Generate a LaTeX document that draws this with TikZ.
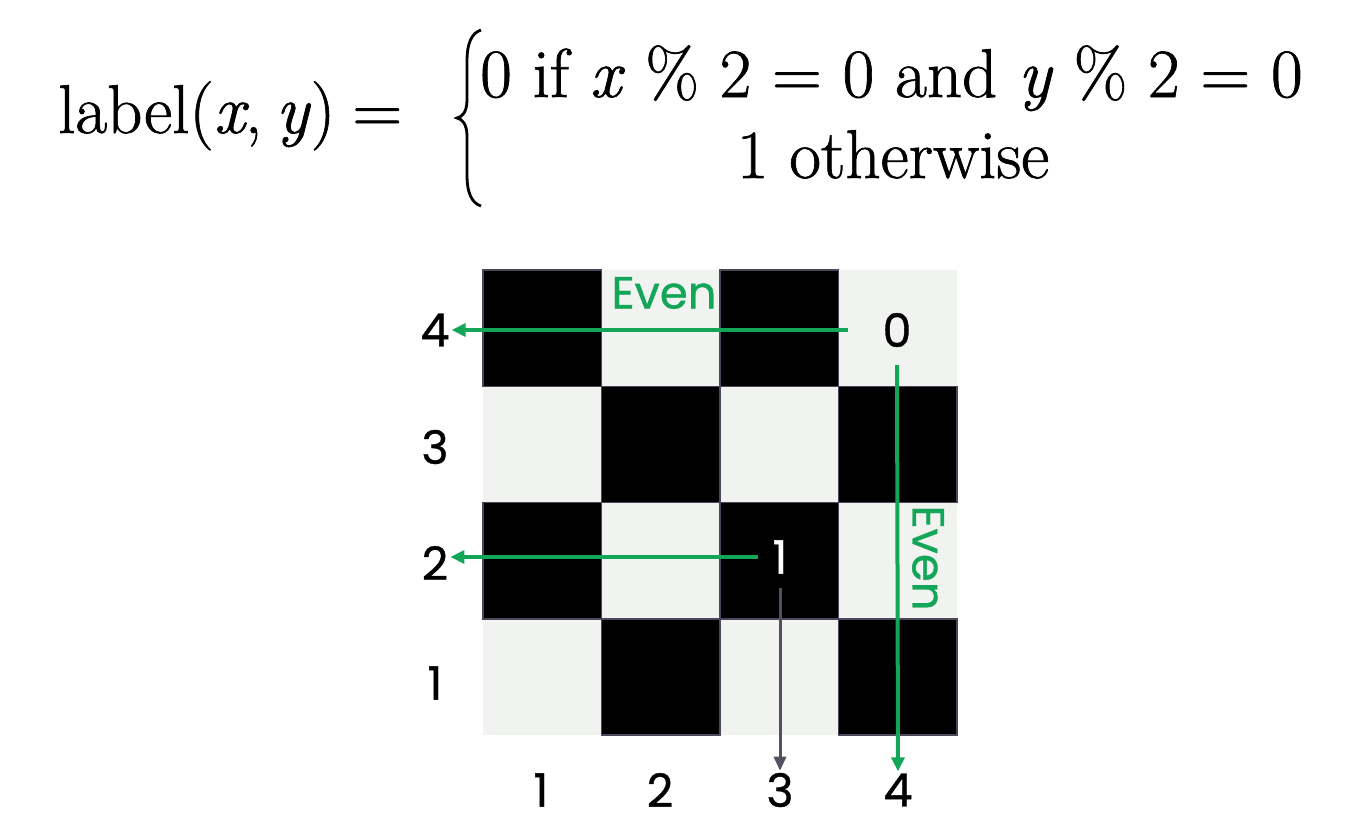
\documentclass[tikz,border=0pt]{standalone}
\usepackage{fontspec}
\usetikzlibrary{arrows.meta}
\newfontfamily\labfont[FakeBold=0.8]{Poppins}
\newfontfamily\formfont[FakeBold=1]{Latin Modern Roman}
\definecolor{evgreen}{RGB}{20,166,88}
\definecolor{lightcell}{RGB}{241,243,241}
\definecolor{cellborder}{RGB}{74,72,90}
\definecolor{grayarrow}{RGB}{85,80,96}
\tikzset{
  darkcell/.style={fill=black,draw=cellborder,line width=1.5pt},
  axislab/.style={font=\labfont\fontsize{46}{54}\selectfont,inner sep=2pt},
  evenlab/.style={font=\labfont\fontsize{45}{54}\selectfont,text=evgreen,inner sep=0pt},
  garrow/.style={draw=evgreen,line width=4pt,-{Triangle[length=14pt,width=13pt]}},
  karrow/.style={draw=grayarrow,line width=3pt,-{Triangle[length=14pt,width=12pt]}},
  formtext/.style={font=\formfont\fontsize{69}{80}\selectfont,inner sep=0pt}
}
\begin{document}
\begin{tikzpicture}[x=1pt,y=-1pt]
\useasboundingbox (0,0) rectangle (1363,836);
\fill[white] (0,0) rectangle (1363,836);
% formula
\node[formtext,anchor=base west] (lhs) at (58,133) {label(\textit{x},\hspace{0.2em}\textit{y})\hspace{0.25em}=};
\node[formtext,anchor=base west] (case1) at (480,97) {0 if \textit{x} \% 2 = 0 and \textit{y} \% 2 = 0};
\node[formtext,anchor=base] (case2) at (893,178) {1 otherwise};
\draw[line width=2.8pt] (481,30) .. controls (471,33) and (467,45) .. (467,60) -- (467,100)
  .. controls (467,112) and (462,117) .. (457,118)
  .. controls (462,119) and (467,124) .. (467,136) -- (467,176)
  .. controls (467,191) and (471,203) .. (481,206);
% grid
\fill[lightcell] (483,270) rectangle (957,735);
\foreach \c in {1,2,3,4}{
  \foreach \r in {1,2,3,4}{
    \pgfmathtruncatemacro{\parity}{mod(\c+\r,2)}
    \pgfmathsetmacro{\xa}{483+(\c-1)*118.5}
    \pgfmathsetmacro{\ya}{270+(4-\r)*116.25}
    \ifnum\parity=1
      \draw[darkcell] (\xa,\ya) rectangle ++(118.5,116.25);
    \fi
  }
}
% axis labels
\node[axislab] (r4) at (435,330) {4};
\node[axislab] (r3) at (435,447) {3};
\node[axislab] (r2) at (435,563) {2};
\node[axislab] (r1) at (435,683) {1};
\node[axislab] (c1) at (541,790) {1};
\node[axislab] (c2) at (660,790) {2};
\node[axislab] (c3) at (780,790) {3};
\node[axislab] (c4) at (898,790) {4};
% cell values
\node[axislab] (zero) at (897,330) {0};
\node[axislab,text=white] (one) at (780,557) {1};
% arrows
\draw[garrow] ([xshift=-32pt]zero.west) -- (r4.east |- zero.west);
\draw[garrow] ([xshift=-12pt]one.west) -- (r2.east |- one.west);
\draw[garrow] ([yshift=-16pt]zero.south) -- (c4.north);
\draw[karrow] ([yshift=-12pt]one.south) -- (c3.north);
% Even labels
\node[evenlab] (even1) at (664,293) {Even};
\node[evenlab,rotate=-90] (even2) at (928,558) {Even};
\end{tikzpicture}
\end{document}
